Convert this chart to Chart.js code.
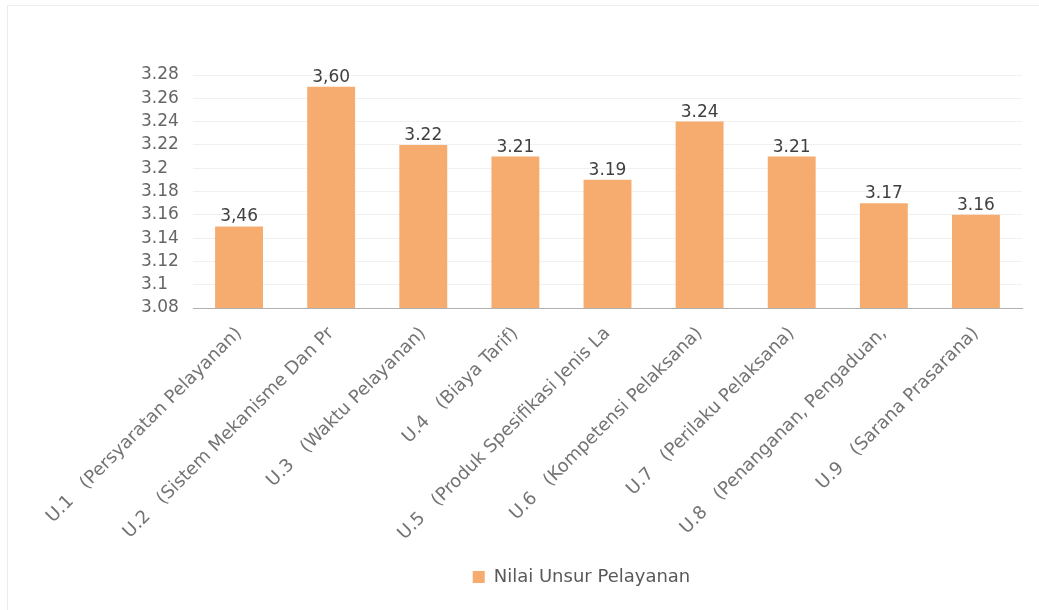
<!DOCTYPE html>
<html>
<head>
<meta charset="utf-8">
<script src="https://cdn.jsdelivr.net/npm/chart.js@4"></script>
<style>
  html, body { margin: 0; padding: 0; background: #ffffff; }
  #wrap { position: absolute; left: 0; top: 0; width: 1039px; height: 610px; }
</style>
</head>
<body>
<div id="wrap"><canvas id="c" width="1039" height="610"></canvas></div>
<script>
const categories = [
  'U.1   (Persyaratan Pelayanan)',
  'U.2   (Sistem Mekanisme Dan Pr',
  'U.3   (Waktu Pelayanan)',
  'U.4   (Biaya Tarif)',
  'U.5   (Produk Spesifikasi Jenis La',
  'U.6   (Kompetensi Pelaksana)',
  'U.7   (Perilaku Pelaksana)',
  'U.8   (Penanganan, Pengaduan,',
  'U.9   (Sarana Prasarana)'
];
const seriesName = 'Nilai Unsur Pelayanan';
const values = [3.15, 3.27, 3.22, 3.21, 3.19, 3.24, 3.21, 3.17, 3.16];
const dataLabels = ['3,46', '3,60', '3.22', '3.21', '3.19', '3.24', '3.21', '3.17', '3.16'];
const yMin = 3.08, yMax = 3.28, yStep = 0.02;

const FONT = "'DejaVu Sans', sans-serif";

const frame = {
  id: 'frame',
  beforeDraw(chart) {
    const ctx = chart.ctx;
    ctx.save();
    ctx.fillStyle = '#ffffff';
    ctx.fillRect(0, 0, chart.width, chart.height);
    ctx.strokeStyle = '#ececec';
    ctx.lineWidth = 1;
    ctx.strokeRect(7.5, 5.5, 1040, 620);
    ctx.restore();
  }
};

const valueLabels = {
  id: 'valueLabels',
  afterDatasetsDraw(chart) {
    const ctx = chart.ctx;
    const meta = chart.getDatasetMeta(0);
    ctx.save();
    ctx.font = '17px ' + FONT;
    ctx.fillStyle = '#404040';
    ctx.textAlign = 'center';
    ctx.textBaseline = 'alphabetic';
    meta.data.forEach((bar, i) => {
      ctx.fillText(dataLabels[i], bar.x, bar.y - 5);
    });
    ctx.restore();
  }
};

new Chart(document.getElementById('c'), {
  type: 'bar',
  data: {
    labels: categories,
    datasets: [{
      label: seriesName,
      data: values,
      backgroundColor: '#F6AB6F',
      borderWidth: 0,
      barPercentage: 0.52,
      categoryPercentage: 1.0
    }]
  },
  options: {
    responsive: false,
    animation: false,
    devicePixelRatio: 1,
    layout: { padding: { left: 141, right: 17, top: 75, bottom: 14 } },
    plugins: {
      legend: {
        position: 'bottom',
        labels: {
          boxWidth: 12,
          boxHeight: 12,
          color: '#595959',
          font: { family: FONT, size: 18 },
          padding: 10
        }
      },
      tooltip: { enabled: false }
    },
    scales: {
      x: {
        grid: { display: false, drawTicks: false },
        border: { display: true, color: '#b0b0b0', width: 1 },
        afterFit: (scale) => { scale.height = 250; },
        ticks: {
          color: '#747474',
          font: { family: FONT, size: 18 },
          minRotation: 45,
          maxRotation: 45,
          autoSkip: false,
          padding: 15
        }
      },
      y: {
        min: yMin,
        max: yMax,
        grid: { color: '#f0f0f0', drawTicks: false },
        border: { display: false },
        afterFit: (scale) => { scale.width = 52; },
        ticks: {
          stepSize: yStep,
          autoSkip: false,
          crossAlign: 'far',
          padding: 10,
          color: '#666666',
          font: { family: FONT, size: 17 },
          callback: (v) => String(parseFloat(Number(v).toFixed(2)))
        }
      }
    }
  },
  plugins: [frame, valueLabels]
});
</script>
</body>
</html>
